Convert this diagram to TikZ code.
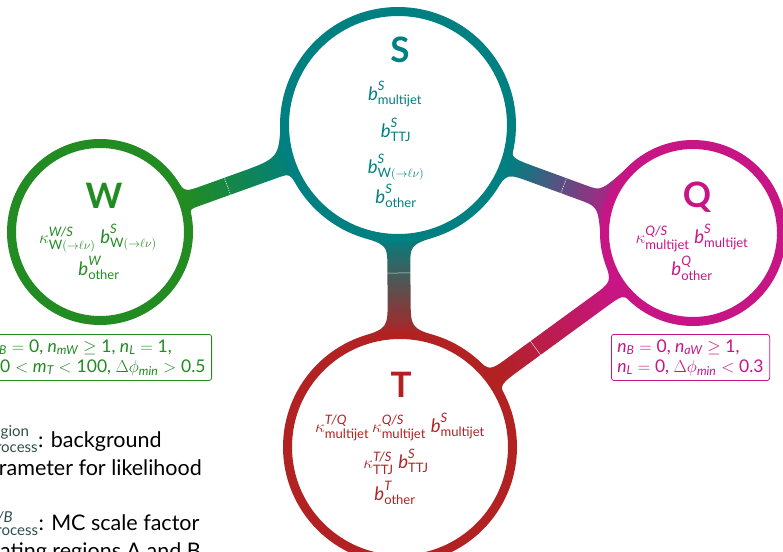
\documentclass[tikz,border=0pt]{standalone}
\usepackage{amsmath}
\usepackage{fontspec}
\setmainfont{Lato}
\usetikzlibrary{calc}
\definecolor{cW}{RGB}{34,139,34}
\definecolor{cS}{RGB}{0,128,128}
\definecolor{cQ}{RGB}{199,21,133}
\definecolor{cT}{RGB}{178,34,34}
\definecolor{cL}{RGB}{47,79,79}
\newcommand\V[1]{\textit{#1}}
\newcommand\tx[1]{\text{#1}}
\pgfdeclarelayer{bg}
\pgfsetlayers{bg,main}
% one side of a bridge: prefix, from, to, radius, beta, halfwidth, flare, perp
\newcommand\bside[8]{%
  \pgfmathsetmacro\tmpxc{(#4-#6*sin(abs(#5)))/cos(#5)}%
  \pgfmathsetmacro\tmpxp{\tmpxc+#7}%
  \coordinate (#1a) at ($(#2.center)!#4pt!#5:(#3.center)$);%
  \coordinate (#1x) at ($(#2.center)!\tmpxc pt!(#3.center)$);%
  \coordinate (#1y) at ($(#2.center)!\tmpxp pt!(#3.center)$);%
  \coordinate (#1c) at ($(#1x)!#6pt!#8:(#3.center)$);%
  \coordinate (#1p) at ($(#1y)!#6pt!#8:(#3.center)$);%
}
\newcommand\bpath[1]{(#1uAa) .. controls (#1uAc) .. (#1uAp) -- (#1uBp) .. controls (#1uBc) .. (#1uBa) -- (#1lBa) .. controls (#1lBc) .. (#1lBp) -- (#1lAp) .. controls (#1lAc) .. (#1lAa) -- cycle}
\newcommand\seam[6]{%
  \coordinate (#1m) at ($(#2.center)!#4pt!(#3.center)$);%
  \coordinate (#1s) at ($(#1m)!#5pt!90:(#3.center)$);%
  \coordinate (#1t) at ($(#1m)!#5pt!-90:(#3.center)$);%
  \draw[#6] (#1s) -- (#1t);%
}
\tikzset{
  ring/.style={circle, draw=#1, line width=9pt, fill=white, inner sep=0pt, outer sep=0pt},
  lbl/.style={text=#1, font=\fontsize{18.6}{22}\selectfont, anchor=base, inner sep=0pt},
  big/.style={text=#1, font=\fontsize{35}{40}\selectfont\bfseries, anchor=base, inner sep=0pt},
  box/.style={draw=#1, text=#1, fill=white, rounded corners=2.5pt, line width=0.8pt, align=left, font=\fontsize{17.5}{20}\selectfont, inner xsep=6pt, inner ysep=5pt},
  leg/.style={font=\fontsize{21.5}{24}\selectfont, anchor=base west, inner sep=0pt},
  seamd/.style={white, line width=0.6pt, dash pattern=on 1.2pt off 1.2pt},
  seaml/.style={white, line width=0.5pt, opacity=0.8}
}
\begin{document}
\begin{tikzpicture}[x=1pt,y=-1pt]
\useasboundingbox (0,0) rectangle (783,551);
\clip (0,0) rectangle (783,551);
% rings
\node[ring=cS, minimum size=227pt] (S) at (398,125) {};
\node[ring=cT, minimum size=225pt] (T) at (400,447) {};
\node[ring=cW, minimum size=177pt] (W) at (100,232) {};
\node[ring=cQ, minimum size=177pt] (Q) at (693,233) {};
% bridges
\begin{pgfonlayer}{bg}
\bside{WSuA}{W}{S}{92.5}{15}{9}{18}{90}
\bside{WSlA}{W}{S}{92.5}{-10}{9}{10}{-90}
\bside{WSuB}{S}{W}{117.5}{-22}{9}{44}{-90}
\bside{WSlB}{S}{W}{117.5}{13}{9}{12}{90}
\shade[left color=cW, right color=cS, shading angle=109.7] \bpath{WS};
\bside{SQuA}{S}{Q}{117.5}{9}{8}{30}{90}
\bside{SQlA}{S}{Q}{117.5}{-14}{8}{25}{-90}
\bside{SQuB}{Q}{S}{92.5}{-28}{8}{15}{-90}
\bside{SQlB}{Q}{S}{92.5}{24.6}{8}{20}{90}
\shade[left color=cS, right color=cQ, shading angle=69.9] \bpath{SQ};
\bside{STuA}{S}{T}{117.5}{19}{11.5}{21}{90}
\bside{STlA}{S}{T}{117.5}{-19}{11.5}{21}{-90}
\bside{STuB}{T}{S}{116.5}{-19}{11.5}{29}{-90}
\bside{STlB}{T}{S}{116.5}{19}{11.5}{29}{90}
\shade[left color=cS, right color=cT, shading angle=0] \bpath{ST};
\bside{TQuA}{T}{Q}{116.5}{12.5}{8.5}{25}{90}
\bside{TQlA}{T}{Q}{116.5}{-10.5}{8.5}{30}{-90}
\bside{TQuB}{Q}{T}{92.5}{-18.5}{8.5}{23}{-90}
\bside{TQlB}{Q}{T}{92.5}{11.5}{8.5}{25}{90}
\shade[left color=cT, right color=cQ, shading angle=126.1] \bpath{TQ};
\seam{WSs}{W}{S}{135.4}{10.5}{seamd}
\seam{SQs}{S}{Q}{176.5}{9.5}{seamd}
\seam{STs}{S}{T}{148}{13}{seaml}
\seam{TQs}{T}{Q}{167.8}{10}{seaml}
\end{pgfonlayer}
% S
\node[big=cS] (Sl) at (400,63) {S};
\node[lbl=cS] (Sb1) at (395,100) {$\V{b}^{\V{S}}_{\tx{multijet}}$};
\node[lbl=cS] (Sb2) at (396,137) {$\V{b}^{\V{S}}_{\tx{TTJ}}$};
\node[lbl=cS] (Sb3) at (396,173) {$\V{b}^{\V{S}}_{\tx{W}(\to\ell\nu)}$};
\node[lbl=cS] (Sb4) at (396,203) {$\V{b}^{\V{S}}_{\tx{other}}$};
% W
\node[big=cW] (Wl) at (104,208) {W};
\node[lbl=cW] (Wb1) at (98,243) {$\kappa^{\V{W/S}}_{\tx{W}(\to\ell\nu)}\;\V{b}^{\V{S}}_{\tx{W}(\to\ell\nu)}$};
\node[lbl=cW] (Wb2) at (99,275) {$\V{b}^{\V{W}}_{\tx{other}}$};
% Q
\node[big=cQ] (Ql) at (697,207) {Q};
\node[lbl=cQ] (Qb1) at (692,243) {$\kappa^{\V{Q/S}}_{\tx{multijet}}\;\V{b}^{\V{S}}_{\tx{multijet}}$};
\node[lbl=cQ] (Qb2) at (692,275) {$\V{b}^{\V{Q}}_{\tx{other}}$};
% T
\node[big=cT] (Tl) at (401,397) {T};
\node[lbl=cT] (Tb1) at (400,432) {$\kappa^{\V{T/Q}}_{\tx{multijet}}\,\kappa^{\V{Q/S}}_{\tx{multijet}}\;\V{b}^{\V{S}}_{\tx{multijet}}$};
\node[lbl=cT] (Tb2) at (396,468) {$\kappa^{\V{T/S}}_{\tx{TTJ}}\;\V{b}^{\V{S}}_{\tx{TTJ}}$};
\node[lbl=cT] (Tb3) at (395,500) {$\V{b}^{\V{T}}_{\tx{other}}$};
% boxes
\node[box=cW, anchor=north east] (Wbox) at (212,334) {$\V{n}_{\V{B}} = \tx{0}$, $\V{n}_{\V{mW}} \geq \tx{1}$, $\V{n}_{\V{L}} = \tx{1}$,\\ $\tx{50} < \V{m}_{\V{T}} < \tx{100}$, $\Delta\phi_{\V{min}} > \tx{0.5}$};
\node[box=cQ, anchor=north west] (Qbox) at (611,334) {$\V{n}_{\V{B}} = \tx{0}$, $\V{n}_{\V{aW}} \geq \tx{1}$,\\ $\V{n}_{\V{L}} = \tx{0}$, $\Delta\phi_{\V{min}} < \tx{0.3}$};
% legend
\node[leg] (L1) at (-24,447) {$\textcolor{cL}{\V{b}^{\tx{region}}_{\tx{process}}}$: background};
\node[leg] (L2) at (-24,475) {parameter for likelihood};
\node[leg] (L3) at (-24,530) {$\textcolor{cL}{\kappa^{\V{A/B}}_{\tx{process}}}$: MC scale factor};
\node[leg] (L4) at (-24,558) {relating regions A and B};
\end{tikzpicture}
\end{document}
